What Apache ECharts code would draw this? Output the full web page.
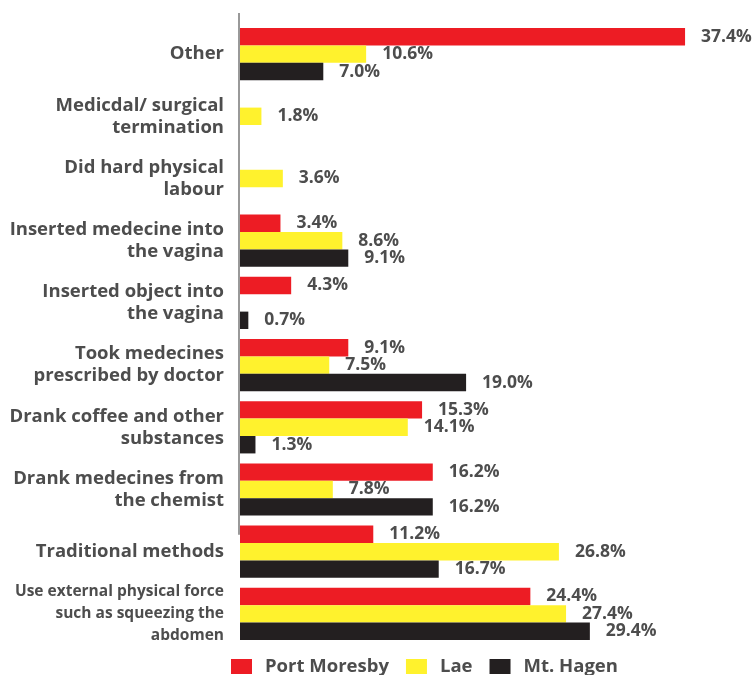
<!DOCTYPE html>
<html><head><meta charset="utf-8">
<script src="https://cdn.jsdelivr.net/npm/echarts@6/dist/echarts.min.js"></script>
<style>html,body{margin:0;padding:0;background:#fff}#c{width:753px;height:675px}</style>
</head><body><div id="c"></div>
<script>
const categories = [
  "Other",
  "Medicdal/ surgical\ntermination",
  "Did hard physical\nlabour",
  "Inserted medecine into\nthe vagina",
  "Inserted object into\nthe vagina",
  "Took medecines\nprescribed by doctor",
  "Drank coffee and other\nsubstances",
  "Drank medecines from\nthe chemist",
  "Traditional methods",
  "{s|Use external physical force}\n{s|such as squeezing the}\n{s|abdomen}"
];
const seriesNames = ["Port Moresby", "Lae", "Mt. Hagen"];
const portMoresby = [37.4, null, null, 3.4, 4.3, 9.1, 15.3, 16.2, 11.2, 24.4];
const lae         = [10.6, 1.8, 3.6, 8.6, null, 7.5, 14.1, 7.8, 26.8, 27.4];
const mtHagen     = [7.0, null, null, 9.1, 0.7, 19.0, 1.3, 16.2, 16.7, 29.4];
const colors = ["#ED1C24", "#FFF22D", "#231F20"];
const textColor = "#4D4D4D";
const font = "'Open Sans', sans-serif";

const chart = echarts.init(document.getElementById('c'));
const dataSets = [portMoresby, lae, mtHagen];
const series = dataSets.map((d, i) => ({
  name: seriesNames[i],
  type: 'bar',
  data: d,
  barGap: '0%',
  barCategoryGap: '16%',
  itemStyle: { color: colors[i] },
  label: {
    show: true, position: 'right', distance: 16,
    formatter: p => p.value == null ? '' : p.value.toFixed(1) + '%',
    color: textColor, fontFamily: font, fontWeight: 'bold', fontSize: 17.5
  }
}));
chart.setOption({
  animation: false,
  textStyle: { fontFamily: font },
  grid: { left: 240, right: 37, top: 23, bottom: 30, containLabel: false },
  xAxis: { type: 'value', min: 0, max: 40, show: false },
  yAxis: {
    type: 'category', data: categories, inverse: true,
    axisLine: { show: false }, axisTick: { show: false },
    axisLabel: {
      margin: 16, color: textColor, fontFamily: font, fontWeight: 'bold',
      fontSize: 18.5, lineHeight: 22, align: 'right',
      rich: { s: { fontSize: 15.5, lineHeight: 22, color: textColor, fontWeight: 'bold', fontFamily: font } }
    }
  },
  legend: {
    top: 652, left: 226, itemWidth: 21, itemHeight: 15, itemGap: 17,
    icon: 'rect',
    textStyle: { color: textColor, fontFamily: font, fontWeight: 'bold', fontSize: 18.5, padding: [0, 0, 0, 8] },
    data: seriesNames
  },
  series: series
});
// vertical axis line from the top down into the "Traditional methods" band
const yTop = 13;
const yB = chart.convertToPixel({ yAxisIndex: 0 }, categories[8]);
const x0 = chart.convertToPixel({ xAxisIndex: 0 }, 0) - 1;
chart.setOption({
  graphic: [{
    type: 'line', shape: { x1: x0, y1: yTop, x2: x0, y2: yB - 17 },
    style: { stroke: '#999999', lineWidth: 2 }, z: 10
  }]
});
</script></body></html>
